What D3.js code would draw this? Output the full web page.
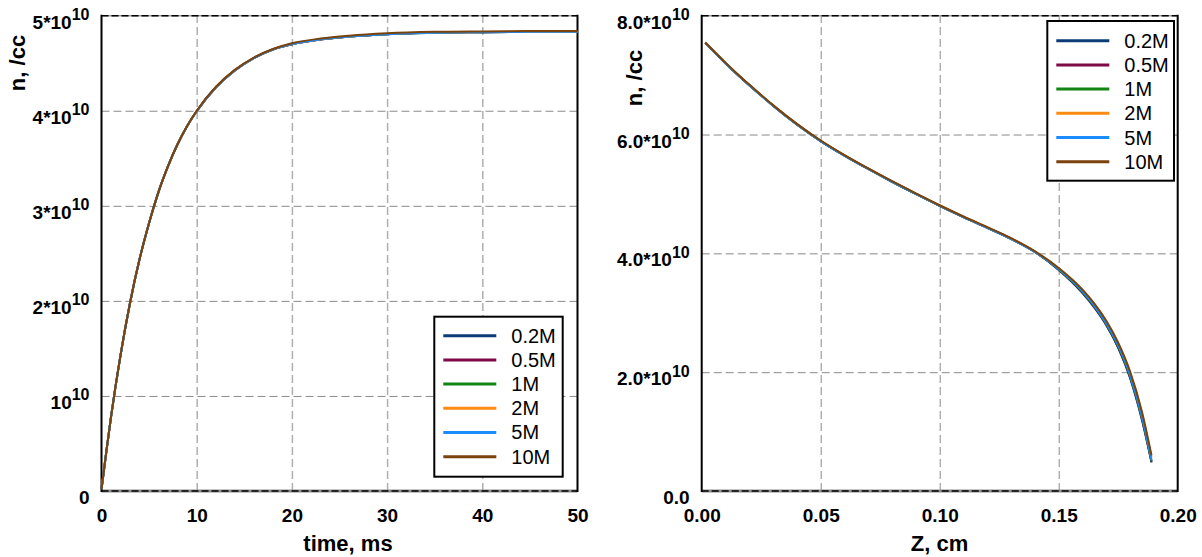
<!DOCTYPE html>
<html>
<head>
<meta charset="utf-8">
<script src="https://cdn.jsdelivr.net/npm/d3@7"></script>
<style>
  body { margin: 0; background: #fff; }
  text { font-family: "Liberation Sans", Arial, sans-serif; }
</style>
</head>
<body>
<script>
const w = 1202;
const h = 557;

// series
const seriesNames = ["0.2M", "0.5M", "1M", "2M", "5M", "10M"];
const seriesColors = ["#0c3c78", "#7d0a46", "#138413", "#ff8a12", "#1a8cff", "#7a420c"];

// left panel: density vs time (units of 1e10 /cc)
const timeMs = [0, 0.5, 1, 2, 3, 4, 5, 6, 7, 8, 9, 10, 12, 14, 16, 18, 20, 23, 26, 30, 35, 40, 45, 50];
const nTime02 = [0.02, 0.41, 0.78, 1.43, 1.98, 2.44, 2.82, 3.15, 3.42, 3.65, 3.84, 3.995, 4.245, 4.425, 4.555, 4.645, 4.70, 4.75, 4.78, 4.805, 4.82, 4.826, 4.829, 4.83];
const nTime05 = [0.02, 0.41, 0.78, 1.43, 1.98, 2.44, 2.82, 3.15, 3.42, 3.65, 3.84, 3.995, 4.245, 4.425, 4.555, 4.645, 4.70, 4.75, 4.78, 4.806, 4.821, 4.827, 4.83, 4.831];
const nTime1 = [0.02, 0.41, 0.78, 1.43, 1.98, 2.44, 2.82, 3.15, 3.42, 3.65, 3.84, 3.995, 4.245, 4.425, 4.555, 4.645, 4.70, 4.751, 4.781, 4.806, 4.821, 4.827, 4.83, 4.831];
const nTime2 = [0.02, 0.41, 0.78, 1.43, 1.98, 2.44, 2.82, 3.15, 3.42, 3.65, 3.84, 3.995, 4.245, 4.425, 4.555, 4.645, 4.702, 4.752, 4.782, 4.807, 4.822, 4.828, 4.831, 4.832];
const nTime5 = [0.02, 0.41, 0.78, 1.43, 1.98, 2.44, 2.82, 3.15, 3.42, 3.65, 3.84, 3.995, 4.245, 4.425, 4.555, 4.645, 4.702, 4.752, 4.782, 4.806, 4.821, 4.827, 4.83, 4.83];
const nTime10 = [0.02, 0.41, 0.78, 1.43, 1.98, 2.44, 2.82, 3.15, 3.42, 3.65, 3.84, 4.00, 4.25, 4.43, 4.56, 4.65, 4.71, 4.76, 4.79, 4.815, 4.83, 4.835, 4.838, 4.84];

// right panel: density vs Z (units of 1e10 /cc)
const zCm = [0.0015, 0.005, 0.01, 0.015, 0.02, 0.025, 0.03, 0.04, 0.05, 0.06, 0.07, 0.08, 0.09, 0.10, 0.11, 0.12, 0.13, 0.14, 0.15, 0.16, 0.165, 0.17, 0.175, 0.18, 0.185, 0.189];
const nZ02 = [7.54, 7.40, 7.20, 7.01, 6.83, 6.655, 6.485, 6.17, 5.89, 5.645, 5.42, 5.205, 5.00, 4.80, 4.61, 4.43, 4.245, 4.025, 3.72, 3.33, 3.085, 2.79, 2.41, 1.90, 1.19, 0.48];
const nZ05 = [7.54, 7.40, 7.20, 7.01, 6.83, 6.655, 6.485, 6.17, 5.89, 5.645, 5.42, 5.205, 5.00, 4.80, 4.61, 4.43, 4.245, 4.025, 3.725, 3.34, 3.095, 2.80, 2.42, 1.915, 1.21, 0.49];
const nZ1 = [7.54, 7.40, 7.20, 7.01, 6.83, 6.655, 6.485, 6.17, 5.89, 5.645, 5.42, 5.205, 5.00, 4.80, 4.61, 4.43, 4.245, 4.025, 3.73, 3.35, 3.105, 2.81, 2.43, 1.93, 1.23, 0.50];
const nZ2 = [7.545, 7.405, 7.205, 7.015, 6.835, 6.66, 6.49, 6.175, 5.895, 5.65, 5.425, 5.21, 5.005, 4.805, 4.615, 4.435, 4.25, 4.03, 3.745, 3.38, 3.14, 2.85, 2.475, 1.985, 1.30, 0.56];
const nZ5 = [7.54, 7.40, 7.20, 7.01, 6.83, 6.655, 6.485, 6.17, 5.89, 5.645, 5.42, 5.205, 5.00, 4.80, 4.61, 4.43, 4.245, 4.025, 3.735, 3.36, 3.12, 2.825, 2.45, 1.95, 1.25, 0.52];
const nZ10 = [7.55, 7.41, 7.21, 7.02, 6.84, 6.665, 6.495, 6.18, 5.90, 5.655, 5.43, 5.215, 5.01, 4.81, 4.62, 4.44, 4.255, 4.035, 3.755, 3.39, 3.155, 2.865, 2.495, 2.01, 1.33, 0.60];

// tick labels
const timeTicks = [0, 10, 20, 30, 40, 50];
const leftYTicks = [0, 1, 2, 3, 4, 5];
const leftYBase = ["0", "10", "2*10", "3*10", "4*10", "5*10"];
const leftYSup = ["", "10", "10", "10", "10", "10"];
const zTicks = [0, 0.05, 0.10, 0.15, 0.20];
const rightYTicks = [0, 2, 4, 6, 8];
const rightYBase = ["0.0", "2.0*10", "4.0*10", "6.0*10", "8.0*10"];
const rightYSup = ["", "10", "10", "10", "10"];

const svg = d3
  .select("body")
  .append("svg")
  .attr("width", w)
  .attr("height", h);

function drawPanel(p) {
  const x = d3.scaleLinear().domain(p.xDomain).range([p.x0, p.x1]);
  const y = d3.scaleLinear().domain(p.yDomain).range([p.y1, p.y0]);
  const g = svg.append("g");

  // grid lines
  g.append("g")
    .attr("transform", "translate(0," + p.y1 + ")")
    .call(d3.axisBottom(x).tickValues(p.xTicks.slice(1, -1)).tickSize(-(p.y1 - p.y0)).tickFormat(""))
    .call(a => a.select(".domain").remove())
    .selectAll("line")
    .attr("stroke", p.vGridColor)
    .attr("stroke-width", p.vGridWidth)
    .attr("stroke-dasharray", "8,4");
  g.append("g")
    .attr("transform", "translate(" + p.x0 + ",0)")
    .call(d3.axisLeft(y).tickValues(p.yTicks.slice(1, -1)).tickSize(-(p.x1 - p.x0)).tickFormat(""))
    .call(a => a.select(".domain").remove())
    .selectAll("line")
    .attr("stroke", "#8a8a8a")
    .attr("stroke-width", 1)
    .attr("stroke-dasharray", "8,4");

  // frame
  g.append("line").attr("x1", p.x0).attr("x2", p.x1).attr("y1", p.y0).attr("y2", p.y0)
    .attr("stroke", "#999").attr("stroke-width", 1.5);
  g.append("line").attr("x1", p.x0).attr("x2", p.x1).attr("y1", p.y0).attr("y2", p.y0)
    .attr("stroke", "#000").attr("stroke-width", 1.5).attr("stroke-dasharray", "7,3");
  g.append("line").attr("x1", p.x0).attr("x2", p.x1).attr("y1", p.y1).attr("y2", p.y1)
    .attr("stroke", "#8c8c8c").attr("stroke-width", 3);
  g.append("line").attr("x1", p.x0).attr("x2", p.x1).attr("y1", p.y1).attr("y2", p.y1)
    .attr("stroke", "#000").attr("stroke-width", 1.5).attr("stroke-dasharray", "7,3");
  g.append("line").attr("x1", p.x0).attr("x2", p.x0).attr("y1", p.y0 - 1).attr("y2", p.y1 + 1)
    .attr("stroke", "#000").attr("stroke-width", 2);
  g.append("line").attr("x1", p.x1).attr("x2", p.x1).attr("y1", p.y0 - 1).attr("y2", p.y1 + 1)
    .attr("stroke", "#000").attr("stroke-width", 2);

  // data lines
  const line = d3.line()
    .x(d => x(d[0]))
    .y(d => y(d[1]))
    .curve(d3.curveMonotoneX);
  p.series.forEach((s, i) => {
    g.append("path")
      .datum(p.xs.map((v, j) => [v, s[j]]))
      .attr("fill", "none")
      .attr("stroke", seriesColors[i])
      .attr("stroke-width", 2)
      .attr("d", line);
  });

  // x axis labels
  g.append("g")
    .attr("transform", "translate(0," + p.y1 + ")")
    .call(d3.axisBottom(x).tickValues(p.xTicks).tickSize(0).tickPadding(18).tickFormat(p.xFormat))
    .call(a => a.select(".domain").remove())
    .selectAll("text")
    .style("font-family", "'Liberation Sans', Arial, sans-serif")
    .style("font-size", "19px")
    .style("font-weight", "bold")
    .attr("fill", "#000");

  // y axis labels with superscripts
  g.append("g")
    .attr("transform", "translate(" + p.x0 + ",0)")
    .call(d3.axisLeft(y).tickValues(p.yTicks).tickSize(0).tickPadding(12).tickFormat(""))
    .call(a => a.select(".domain").remove())
    .selectAll("text")
    .attr("dy", 12.5)
    .style("font-family", "'Liberation Sans', Arial, sans-serif")
    .style("font-size", "19px")
    .style("font-weight", "bold")
    .attr("fill", "#000")
    .each(function(d, i) {
      const t = d3.select(this);
      t.append("tspan").text(p.yBase[i]);
      if (p.ySup[i]) {
        t.append("tspan").attr("dy", -8.5).style("font-size", "16px").text(p.ySup[i]);
      }
    });

  // axis titles
  g.append("text")
    .attr("x", p.xTitleX)
    .attr("y", 551)
    .attr("text-anchor", "middle")
    .style("font-size", "22px")
    .style("font-weight", "bold")
    .text(p.xTitle);
  g.append("text")
    .attr("transform", "translate(" + p.yTitleX + "," + p.yTitleY + ") rotate(-90)")
    .attr("text-anchor", "middle")
    .style("font-size", "22px")
    .style("font-weight", "bold")
    .text("n, /cc");

  // legend
  const lg = g.append("g").attr("transform", "translate(" + p.legX + "," + p.legY + ")");
  lg.append("rect")
    .attr("width", p.legW)
    .attr("height", p.legH)
    .attr("fill", "#fff")
    .attr("stroke", "#000")
    .attr("stroke-width", 2);
  seriesNames.forEach((name, i) => {
    const ry = p.legRow0 + i * 24.2;
    lg.append("line")
      .attr("x1", 9).attr("x2", 62)
      .attr("y1", ry).attr("y2", ry)
      .attr("stroke", seriesColors[i])
      .attr("stroke-width", 3);
    lg.append("text")
      .attr("x", 77)
      .attr("y", ry + 7)
      .style("font-size", "20px")
      .text(name);
  });
}

drawPanel({
  x0: 101.5, x1: 577.5, y0: 15.7, y1: 491,
  xDomain: [0, 50], yDomain: [0, 5],
  xTicks: timeTicks, xFormat: d3.format("d"),
  yTicks: leftYTicks, yBase: leftYBase, ySup: leftYSup,
  vGridColor: "#b0b0b0", vGridWidth: 1.5,
  xs: timeMs,
  series: [nTime02, nTime05, nTime1, nTime2, nTime5, nTime10],
  xTitle: "time, ms", xTitleX: 348,
  yTitleX: 25, yTitleY: 63,
  legX: 434.3, legY: 316.7, legW: 128.4, legH: 160, legRow0: 19
});

drawPanel({
  x0: 701.7, x1: 1177.7, y0: 15.7, y1: 491,
  xDomain: [0, 0.2], yDomain: [0, 8],
  xTicks: zTicks, xFormat: d3.format(".2f"),
  yTicks: rightYTicks, yBase: rightYBase, ySup: rightYSup,
  vGridColor: "#8a8a8a", vGridWidth: 1,
  xs: zCm,
  series: [nZ02, nZ05, nZ1, nZ2, nZ5, nZ10],
  xTitle: "Z, cm", xTitleX: 939.5,
  yTitleX: 641.7, yTitleY: 78,
  legX: 1047.3, legY: 21, legW: 126.7, legH: 159.7, legRow0: 19.7
});
</script>
</body>
</html>
